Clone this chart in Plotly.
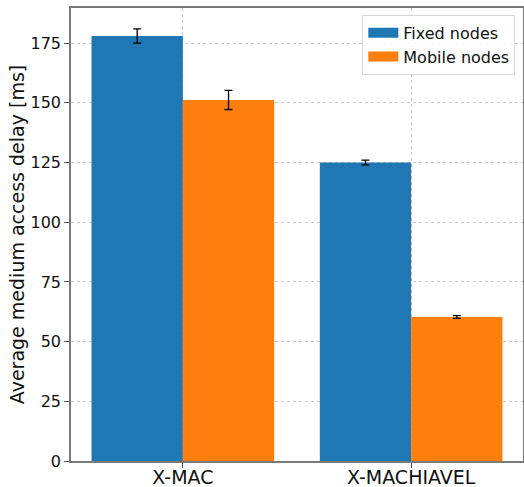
import plotly.graph_objects as go

categories = ["X-MAC", "X-MACHIAVEL"]
fixed_vals = [178.0, 125.0]
fixed_err = [3.0, 1.0]
mobile_vals = [151.2, 60.3]
mobile_err = [4.0, 0.6]
y_ticks = [0, 25, 50, 75, 100, 125, 150, 175]
series_names = ["Fixed nodes", "Mobile nodes"]
series_colors = ["#1f77b4", "#ff7f0e"]

fig = go.Figure()
for name, vals, errs, col in zip(series_names, [fixed_vals, mobile_vals],
                                 [fixed_err, mobile_err], series_colors):
    fig.add_trace(go.Bar(
        x=categories, y=vals, name=name, showlegend=False,
        marker=dict(color=col, line=dict(width=0)),
        error_y=dict(type="data", array=errs, color="black", thickness=1.3, width=4),
    ))
# legend entries drawn as wide patches
for name, col in zip(series_names, series_colors):
    fig.add_trace(go.Scatter(
        x=[None], y=[None], mode="lines", name=name,
        line=dict(color=col, width=13),
    ))

axis_common = dict(
    showline=True, linecolor="#7a7a7a", linewidth=1.5, mirror=True,
    showgrid=True, gridcolor="#c8c8c8", griddash="dot", gridwidth=1,
    ticks="outside", ticklen=5, tickcolor="#555555", tickwidth=1,
    zeroline=False, automargin=False,
)

fig.update_layout(
    width=524, height=487,
    margin=dict(l=71, r=1, t=8, b=26),
    paper_bgcolor="white", plot_bgcolor="white",
    font=dict(family="DejaVu Sans", color="#111111"),
    barmode="group", bargap=0.2, bargroupgap=0,
    showlegend=True,
    legend=dict(
        x=0.983, y=0.985, xanchor="right", yanchor="top",
        bgcolor="rgba(255,255,255,0.85)", bordercolor="#d8d8d8", borderwidth=1,
        font=dict(size=16, family="DejaVu Sans", color="#111111"),
        tracegroupgap=2,
    ),
    xaxis=dict(
        **axis_common,
        type="category", range=[-0.49, 1.49],
        ticklabelstandoff=-7,
        tickfont=dict(size=19, family="DejaVu Sans", color="#111111"),
    ),
    yaxis=dict(
        **axis_common,
        range=[0, 189.7],
        tickvals=y_ticks,
        tickfont=dict(size=16, family="DejaVu Sans", color="#111111"),
        title=dict(text="Average medium access delay [ms]",
                   font=dict(size=19, family="DejaVu Sans", color="#111111"),
                   standoff=1),
    ),
)

fig.write_html("out.html")
